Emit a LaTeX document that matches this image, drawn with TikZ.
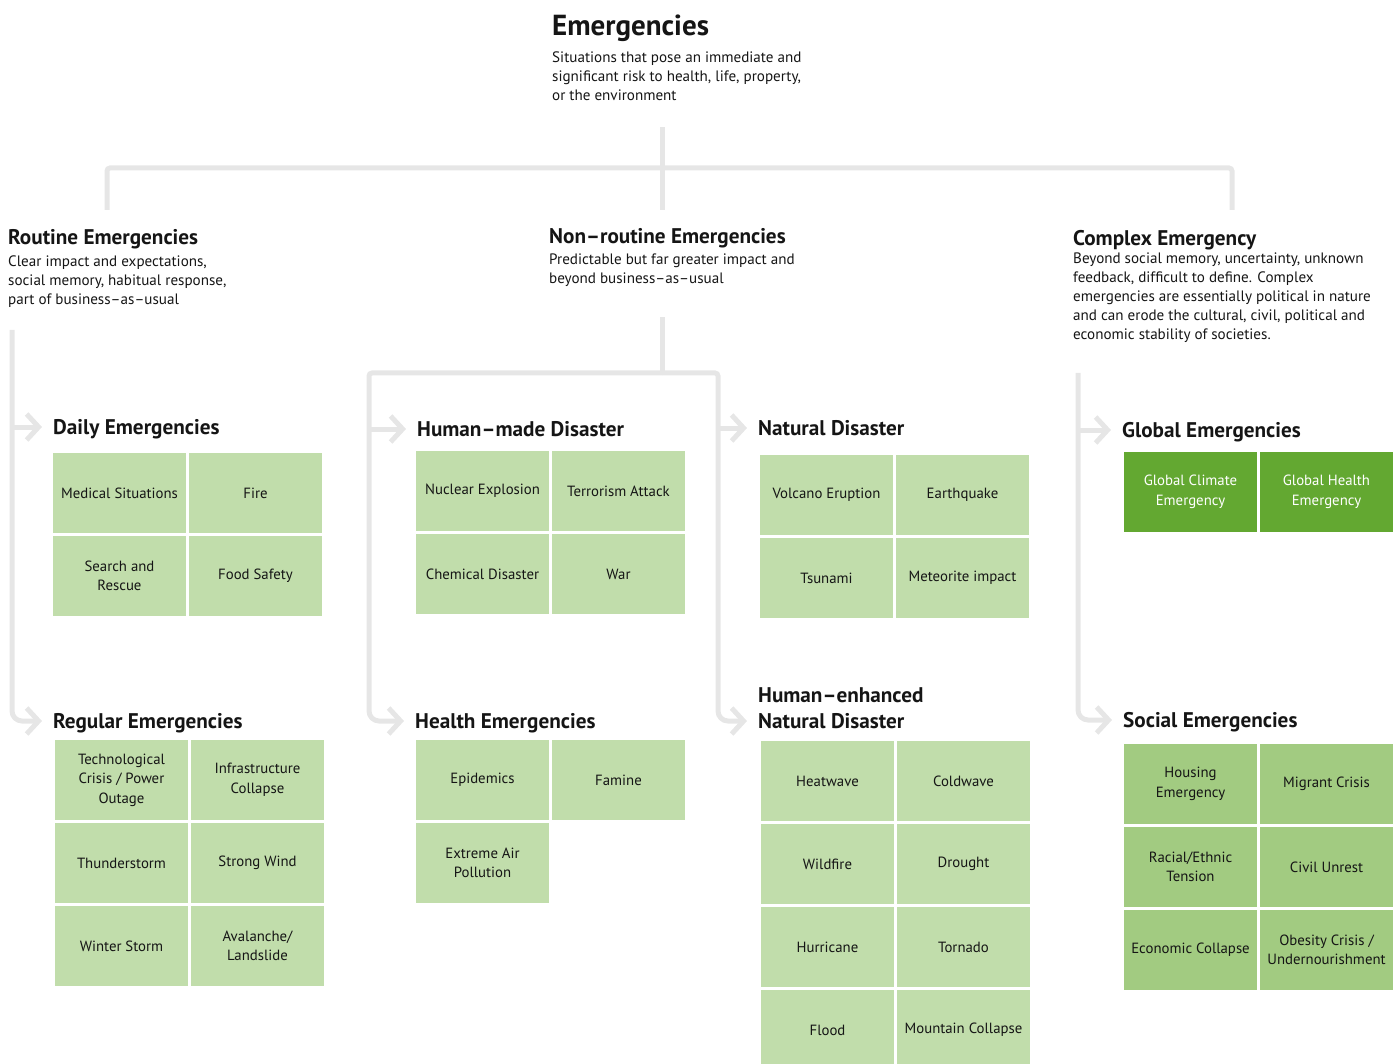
\documentclass[tikz,border=0pt]{standalone}
\usepackage{fontspec}
\setmainfont{PT Sans}
\usetikzlibrary{positioning,arrows.meta}
\definecolor{linegray}{HTML}{E6E6E6}
\definecolor{paleleaf}{HTML}{C1DDAB}
\definecolor{midleaf}{HTML}{A2CB81}
\definecolor{deepleaf}{HTML}{63A831}
\definecolor{inkblack}{HTML}{151515}
\tikzset{
    % Boxes of the grids: pale, middle and deep green
    cell node/.style={rectangle,fill=paleleaf,minimum width=133pt,minimum height=80pt,inner sep=2pt,outer sep=0pt,align=center,text=inkblack,font=\fontsize{14.8}{19.5}\selectfont},
    mid cell/.style={cell node,fill=midleaf}, deep cell/.style={cell node,fill=deepleaf,text=white},
    % Headings and the short texts under them
    head node/.style={anchor=west,inner sep=0,text height=15pt,text depth=0pt,text=inkblack,font=\fontsize{21.2}{26}\selectfont\bfseries},
    note node/.style={anchor=north west,inner sep=0,align=left,text=inkblack,font=\fontsize{15.1}{19}\selectfont},
    % Grey tree lines and their chevron ends
    link/.style={draw=linegray,line width=5pt,rounded corners=3pt}, into/.style={link,rounded corners=10pt,-{Straight Barb[length=12pt,width=26pt]},shorten >=11pt}
    }
\begin{document}
\begin{tikzpicture}[x=1pt,y=-1pt]
        \useasboundingbox (0,0) rectangle (1400,1064);
        % Top of the tree
        \node(top)[head node,text height=20pt,font=\fontsize{29}{34}\selectfont\bfseries] at (552,26) {Emergencies};
        \node(topnote)[note node] at (552,52) {Situations that pose an immediate and\\significant risk to health, life, property,\\or the environment};
        \node(routine)[head node] at (8,237) {Routine Emergencies};
        \node[note node] at (8,256) {Clear impact and expectations,\\social memory, habitual response,\\part of business–as–usual};
        \node(nonroutine)[head node] at (549,236) {Non–routine Emergencies};
        \node[note node] at (549,254) {Predictable but far greater impact and\\beyond business–as–usual};
        \node(complex)[head node] at (1073,238) {Complex Emergency};
        \node[note node] at (1073,253) {Beyond social memory, uncertainty, unknown\\feedback, difficult to define. Complex\\emergencies are essentially political in nature\\and can erode the cultural, civil, political and\\economic stability of societies.};
        % Routine branch
        \node(daily)[head node] at (53,427) {Daily Emergencies};
        \node(d1)[cell node,anchor=north west] at (53,453) {Medical Situations};
        \node(d2)[cell node,right=3pt of d1] {Fire};
        \node(d3)[cell node,below=3pt of d1] {Search and\\Rescue};
        \node(d4)[cell node,right=3pt of d3] {Food Safety};
        \node(regular)[head node] at (53,721) {Regular Emergencies};
        \node(r1)[cell node,anchor=north west] at (55,740) {Technological\\Crisis / Power\\Outage};
        \node(r2)[cell node,right=3pt of r1] {Infrastructure\\Collapse};
        \node(r3)[cell node,below=3pt of r1] {Thunderstorm};
        \node(r4)[cell node,right=3pt of r3] {Strong Wind};
        \node(r5)[cell node,below=3pt of r3] {Winter Storm};
        \node(r6)[cell node,right=3pt of r5] {Avalanche/\\Landslide};
        % Non-routine branch
        \node(humanmade)[head node] at (417,429) {Human–made Disaster};
        \node(h1)[cell node,anchor=north west] at (416,451) {Nuclear Explosion};
        \node(h2)[cell node,right=3pt of h1] {Terrorism Attack};
        \node(h3)[cell node,below=3pt of h1] {Chemical Disaster};
        \node(h4)[cell node,right=3pt of h3] {War};
        \node(health)[head node] at (415,721) {Health Emergencies};
        \node(p1)[cell node,anchor=north west] at (416,740) {Epidemics};
        \node(p2)[cell node,right=3pt of p1] {Famine};
        \node(p3)[cell node,below=3pt of p1] {Extreme Air\\Pollution};
        \node(natural)[head node] at (758,428) {Natural Disaster};
        \node(n1)[cell node,anchor=north west] at (760,455) {Volcano Eruption};
        \node(n2)[cell node,right=3pt of n1] {Earthquake};
        \node(n3)[cell node,below=3pt of n1] {Tsunami};
        \node(n4)[cell node,right=3pt of n3] {Meteorite impact};
        \node(henat)[note node,font=\fontsize{21.2}{26}\selectfont\bfseries] at (758,687) {Human–enhanced\\Natural Disaster};
        \node(e1)[cell node,anchor=north west] at (761,741) {Heatwave};
        \node(e2)[cell node,right=3pt of e1] {Coldwave};
        \node(e3)[cell node,below=3pt of e1] {Wildfire};
        \node(e4)[cell node,right=3pt of e3] {Drought};
        \node(e5)[cell node,below=3pt of e3] {Hurricane};
        \node(e6)[cell node,right=3pt of e5] {Tornado};
        \node(e7)[cell node,below=3pt of e5] {Flood};
        \node(e8)[cell node,right=3pt of e7] {Mountain Collapse};
        % Complex branch
        \node(global)[head node] at (1122,430) {Global Emergencies};
        \node(g1)[deep cell,anchor=north west] at (1124,452) {Global Climate\\Emergency};
        \node(g2)[deep cell,right=3pt of g1] {Global Health\\Emergency};
        \node(social)[head node] at (1123,720) {Social Emergencies};
        \node(s1)[mid cell,anchor=north west] at (1124,744) {Housing\\Emergency};
        \node(s2)[mid cell,right=3pt of s1] {Migrant Crisis};
        \node(s3)[mid cell,below=3pt of s1] {Racial/Ethnic\\Tension};
        \node(s4)[mid cell,right=3pt of s3] {Civil Unrest};
        \node(s5)[mid cell,below=3pt of s3] {Economic Collapse};
        \node(s6)[mid cell,right=3pt of s5] {Obesity Crisis /\\Undernourishment};
        % The lines
        \coordinate (t0) at (662,127); \coordinate (t1) at (662,210);
        \coordinate (t2) at (107,210); \coordinate (t3) at (107,168);
        \coordinate (t4) at (1232,168); \coordinate (t5) at (1232,210);
        \draw[link] (t0) -- (t1);
        \draw[link] (t2) -- (t3) -- (t4) -- (t5);
        \coordinate (l0) at (12,330);
        \draw[into] (l0) |- (regular.west);
        \draw[into] (l0 |- daily.west) -- (daily.west);
        \coordinate (m0) at (662,317); \coordinate (m1) at (662,373);
        \coordinate (m2) at (369,373); \coordinate (m3) at (718,373);
        \coordinate (e0) at ([yshift=7.5pt]henat.south west);
        \draw[link] (m0) -- (m1);
        \draw[into,rounded corners=3pt] (m1) -- (m2) [rounded corners=10pt] |- (health.west);
        \draw[into,rounded corners=3pt] (m1) -- (m3) [rounded corners=10pt] |- (e0);
        \draw[into] (m2 |- humanmade.west) -- (humanmade.west);
        \draw[into] (m3 |- natural.west) -- (natural.west);
        \coordinate (c0) at (1078,373);
        \draw[into] (c0) |- (social.west);
        \draw[into] (c0 |- global.west) -- (global.west);
    \end{tikzpicture}
\end{document}
